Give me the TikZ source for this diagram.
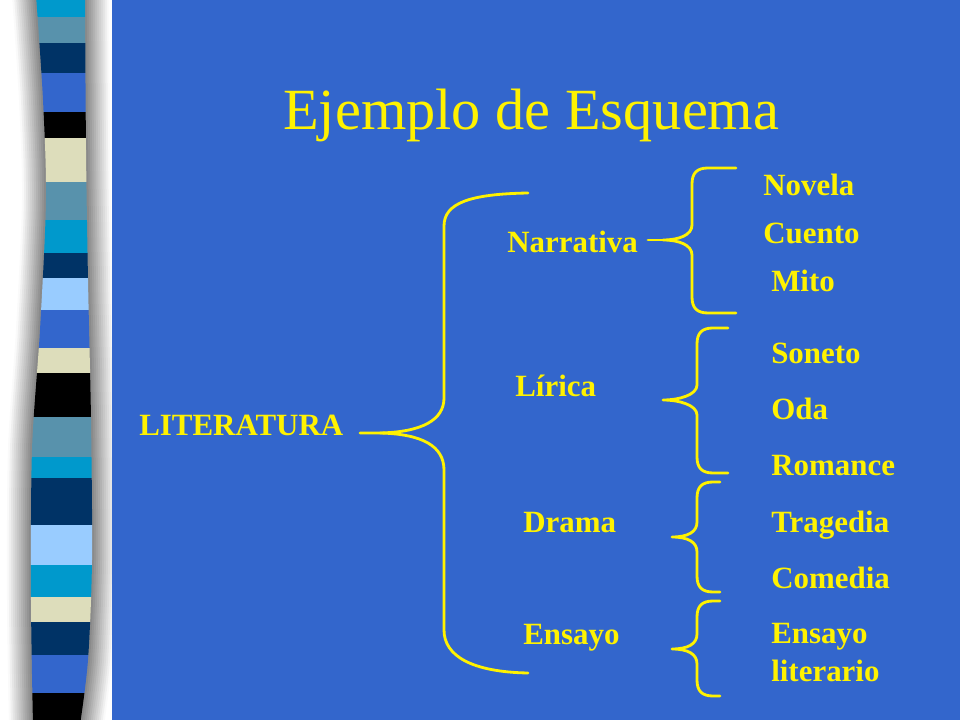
\documentclass[tikz,border=0pt]{standalone}
\usepackage{fontspec}
\setmainfont{Liberation Serif}

\definecolor{fondo}{RGB}{51,102,204}
\definecolor{cian}{RGB}{0,153,204}
\definecolor{acero}{RGB}{88,146,172}
\definecolor{marino}{RGB}{0,51,102}
\definecolor{real}{RGB}{51,102,204}
\definecolor{crema}{RGB}{221,221,187}
\definecolor{celeste}{RGB}{153,204,255}

\tikzset{
  rama/.style={text=yellow, font=\bfseries\fontsize{22}{27}\selectfont,
    anchor=base west, inner sep=0pt},
  llave/.style={draw=yellow, line width=2pt, line cap=round, line join=round}
}

% ribbon outline, #1 = widening on each side
\newcommand{\cinta}[1]{plot[smooth] coordinates {(36-#1,-5) (43-#1,100) (46-#1,200)
  (40-#1,330) (32-#1,450) (31-#1,600) (33-#1,725)}
  -- plot[smooth] coordinates {(80+#1,725) (88+#1,660) (92+#1,560) (91+#1,420)
  (88+#1,280) (86+#1,150) (85+#1,-5)} -- cycle}

% small brace: tip x, tip y, stem x, top y, bottom y, end x
\newcommand{\llave}[6]{%
  \draw[llave] (#6,#4) -- (#3+16,#4) .. controls (#3+5,#4) and (#3,#4+5) .. (#3,#4+16)
    -- (#3,#2-15) .. controls (#3,#2-5) and (#1+16,#2) .. (#1,#2)
    .. controls (#1+16,#2) and (#3,#2+5) .. (#3,#2+15)
    -- (#3,#5-16) .. controls (#3,#5-5) and (#3+5,#5) .. (#3+16,#5) -- (#6,#5);}

\begin{document}
\begin{tikzpicture}[x=0.025cm, y=-0.025cm]
  \useasboundingbox (0,0) rectangle (960,720);
  \fill[white] (0,0) rectangle (112,720);

  % shadow round the ribbon
  \foreach \d in {24,22,...,2} {
    \pgfmathtruncatemacro{\g}{50-2*\d}
    \fill[black!\g] \cinta{\d};
  }
  \begin{scope}
    \clip \cinta{0};
    \foreach \ya/\yb/\col in {-5/17/cian, 17/43/acero, 43/73/marino, 73/112/real,
      112/138/black, 138/182/crema, 182/220/acero, 220/253/cian, 253/278/marino,
      278/310/celeste, 310/348/real, 348/373/crema, 373/417/black, 417/457/acero,
      457/478/cian, 478/525/marino, 525/565/celeste, 565/597/cian, 597/622/crema,
      622/655/marino, 655/693/real, 693/725/black}
      \fill[\col] (20,\ya) rectangle (110,\yb);
  \end{scope}

  \fill[fondo] (112,0) rectangle (960,720);

  \node[text=yellow, font=\fontsize{41.5}{50}\selectfont, anchor=base west, inner sep=0pt]
    (titulo) at (283,130) {Ejemplo de Esquema};

  \node[rama] (lit) at (139,436) {LITERATURA};
  \node[rama] (narr) at (507,253) {Narrativa};
  \node[rama] (lir) at (515,397) {Lírica};
  \node[rama] (dram) at (523,532) {Drama};
  \node[rama] (ens) at (523,644) {Ensayo};

  \node[rama] (nov) at (763,196) {Novela};
  \node[rama] (cue) at (763,244) {Cuento};
  \node[rama] (mit) at (771,292) {Mito};
  \node[rama] (son) at (771,364) {Soneto};
  \node[rama] (oda) at (771,420) {Oda};
  \node[rama] (rom) at (771,476) {Romance};
  \node[rama] (tra) at (771,532) {Tragedia};
  \node[rama] (com) at (771,588) {Comedia};
  \node[rama, anchor=north west, align=left] (ensl) at (771,623) {Ensayo\\literario};

  % big brace
  \draw[llave] (528,193) .. controls (470,194) and (444,203) .. (444,226)
    -- (444,398) .. controls (444,420) and (422,432) .. (380,433) -- (360,433);
  \draw[llave] (380,433) .. controls (422,434) and (444,446) .. (444,470)
    -- (444,630) .. controls (444,656) and (472,672) .. (528,673);

  % small braces
  \draw[llave] (648,240) -- (663,240);
  \llave{663}{240}{692}{168}{313}{736}
  \llave{663}{400}{697}{328}{473}{728}
  \llave{672}{537}{697}{482}{592}{720}
  \llave{672}{649}{697}{601}{696}{720}
\end{tikzpicture}
\end{document}
